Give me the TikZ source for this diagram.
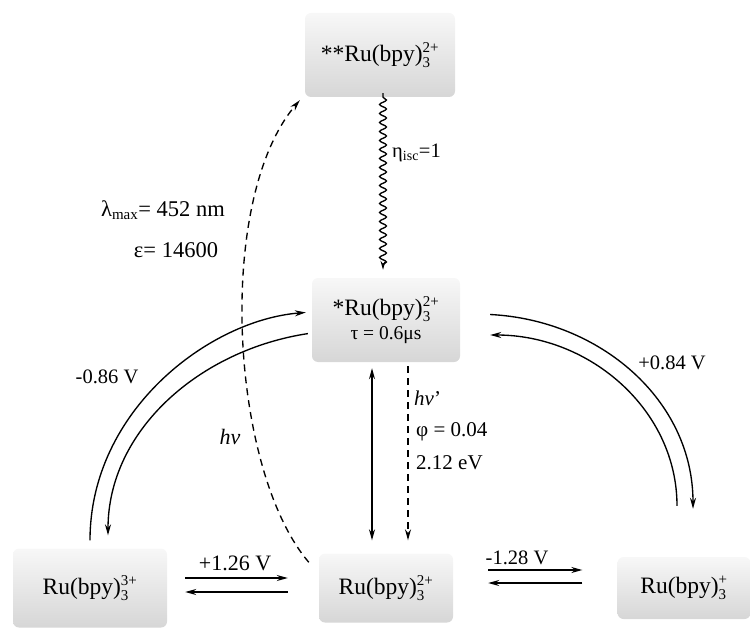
\documentclass[tikz,border=0pt]{standalone}
\usepackage{fontspec}
\setmainfont{Liberation Serif}
\usetikzlibrary{arrows.meta,decorations.pathmorphing}
\newcommand{\rubpy}[1]{Ru(bpy)$^{\mbox{\fontsize{15}{15}\selectfont #1}}_{\mbox{\fontsize{15}{15}\selectfont 3}}$}
\tikzset{
  box/.style={rounded corners=6pt, top color=gray!6, bottom color=gray!32, inner sep=0pt,
    font=\fontsize{23.5}{26}\selectfont},
  arr/.style={line width=1.35pt, -{Stealth[length=11pt,width=6pt]}},
  lbl/.style={font=\fontsize{20.5}{23}\selectfont, inner sep=0pt},
  sml/.style={font=\fontsize{21}{24}\selectfont, inner sep=0pt, anchor=west},
}
\begin{document}
\begin{tikzpicture}[x=1pt,y=-1pt]
\useasboundingbox (0,0) rectangle (751,628);
% boxes
\node[box, minimum width=150pt, minimum height=84pt] (top) at (380,55) {**\rubpy{2+}};
\node[box, minimum width=148pt, minimum height=84pt, align=center] (mid) at (386,320)
  {*\rubpy{2+}\\[-2pt]{\fontsize{19.5}{22}\selectfont τ = 0.6μs}};
\node[box, minimum width=154pt, minimum height=79pt] (L) at (90,588) {\rubpy{3+}};
\node[box, minimum width=134pt, minimum height=69pt] (C) at (386,588) {\rubpy{2+}};
\node[box, minimum width=133pt, minimum height=62pt] (R) at (684,588) {\rubpy{+}};
% horizontal equilibria
\draw[arr, shorten <=18pt, shorten >=31pt] ([yshift=10pt]L.east) -- ([yshift=10pt]C.west);
\draw[arr, shorten <=31pt, shorten >=18pt] ([yshift=-4pt]C.west) -- ([yshift=-4pt]L.east);
\draw[arr, shorten <=35pt, shorten >=35pt] ([yshift=18pt]C.east) -- ([yshift=18pt]R.west);
\draw[arr, shorten <=35pt, shorten >=35pt] ([yshift=5pt]R.west) -- ([yshift=5pt]C.east);
\node[lbl, font=\fontsize{22}{24}\selectfont] (v126) at (235,563) {+1.26 V};
\node[lbl] (v128) at (517,558) {-1.28 V};
% wavy isc
\draw[line width=1.35pt, -{Stealth[length=9pt,width=5pt]},
  decorate, decoration={snake, amplitude=3.4pt, segment length=9pt, post length=9pt},
  shorten <=4pt, shorten >=8pt] ([xshift=3pt]top.south) -- ([xshift=-3pt]mid.north);
\node[lbl, anchor=west] (eta) at (392,153) {η$_{\mbox{\fontsize{14}{14}\selectfont isc}}$=1};
% vertical arrows
\draw[line width=1.35pt, {Stealth[length=11pt,width=6pt]}-{Stealth[length=11pt,width=6pt]},
  shorten <=6pt, shorten >=13pt] ([xshift=-14pt]mid.south) -- ([xshift=-14pt]C.north);
\draw[arr, dash pattern=on 7pt off 5pt, shorten <=4pt, shorten >=13pt]
  ([xshift=22pt]mid.south) -- ([xshift=22pt]C.north);
\node[sml] (hnu2) at (414,398) {\textit{hν}'};
\node[sml] (phi) at (416,432) {φ = 0.04};
\node[sml] (ev) at (416,463) {2.12 eV};
% absorption dashed curve
\draw[arr, dash pattern=on 7pt off 5pt] ([xshift=-10pt,yshift=-9pt]C.north west)
  .. controls (230,470) and (215,200) .. ([xshift=-5pt,yshift=-3pt]top.south west);
\node[lbl, font=\fontsize{22}{24}\selectfont] (hnu) at (230,437) {\textit{hν}};
\node[lbl, font=\fontsize{22.5}{26}\selectfont] (lam) at (163,210) {λ$_{\mbox{\fontsize{15}{15}\selectfont max}}$= 452 nm};
\node[lbl, font=\fontsize{22.5}{26}\selectfont] (eps) at (176,250) {ε= 14600};
% left pair
\draw[arr, shorten <=8pt, shorten >=6pt] (L.north)
  .. controls (90,410) and (210,320) .. ([yshift=8pt]mid.west);
\draw[arr, shorten <=4pt, shorten >=13pt] ([yshift=-13pt]mid.west)
  .. controls (200,350) and (108,430) .. ([xshift=18pt]L.north);
\node[lbl] (v086) at (107,377) {-0.86 V};
% right pair
\draw[arr, shorten <=30pt, shorten >=48pt] ([yshift=7pt]mid.east)
  .. controls (600,320) and (693,400) .. ([xshift=9pt]R.north);
\draw[arr, shorten <=51pt, shorten >=30pt] ([xshift=-7pt]R.north)
  .. controls (677,410) and (590,335) .. ([yshift=-15pt]mid.east);
\node[lbl] (v084) at (672,363) {+0.84 V};
\end{tikzpicture}
\end{document}
